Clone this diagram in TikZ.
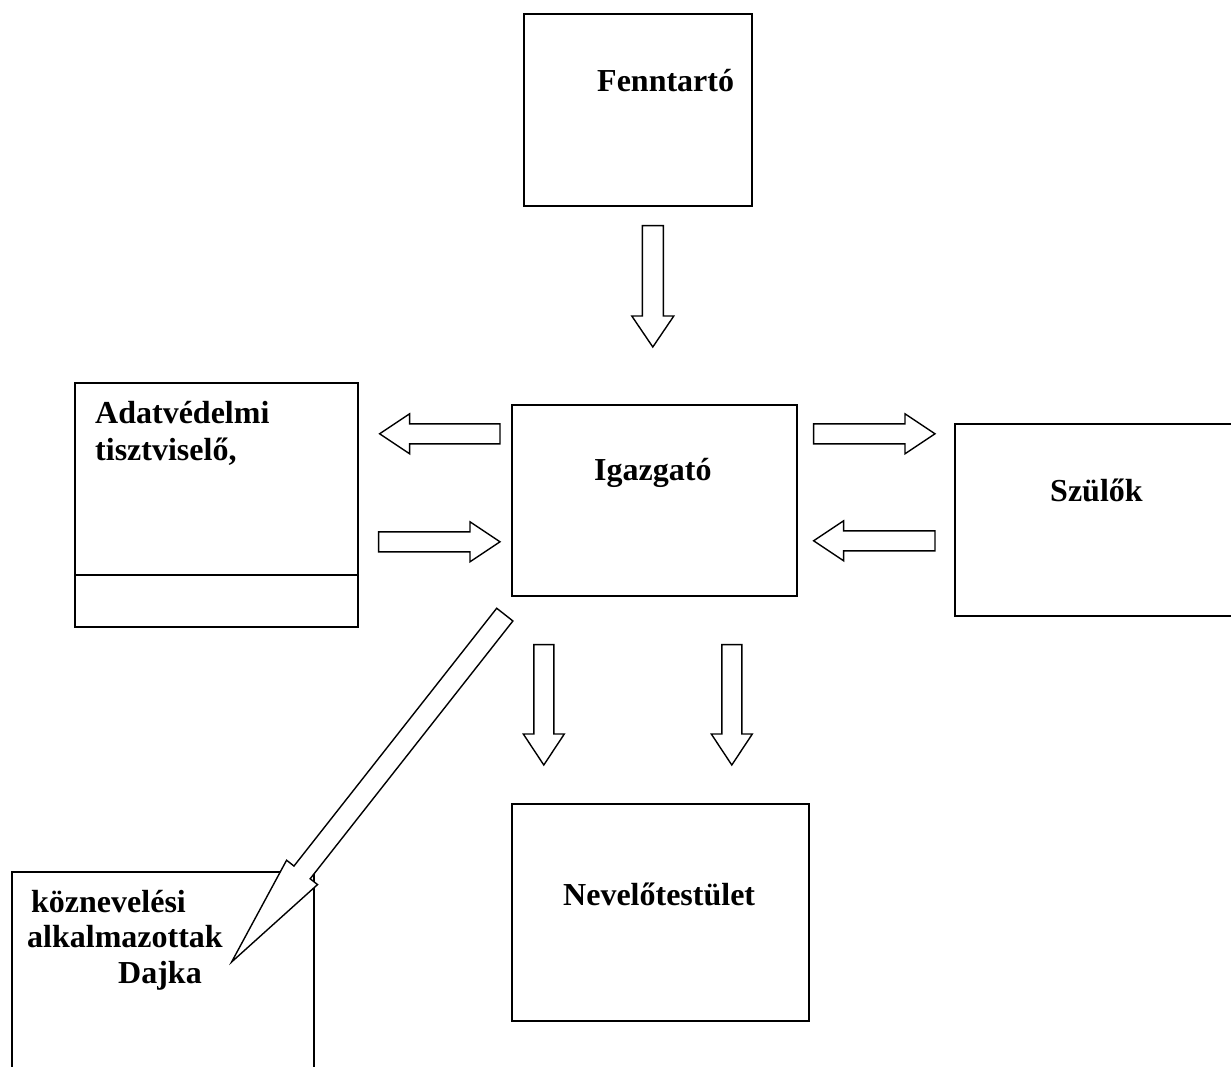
\documentclass[tikz,border=0pt]{standalone}
\usepackage{fontspec}
\setmainfont{Liberation Serif}
\usetikzlibrary{calc}
\tikzset{
  box/.style={draw=black, line width=1.6pt, rectangle, inner sep=0pt, anchor=north west},
  arr/.style={draw=black, fill=white, line width=1.4pt, line join=miter},
  lbl/.style={inner sep=0pt, anchor=base west, font=\bfseries\fontsize{32}{36}\selectfont}
}
\newcommand\blockarr[5]{% #1 start, #2 tip, #3 half shaft, #4 half head, #5 head length
  \coordinate (baB) at ($(#2)!#5pt!(#1)$);
  \draw[arr] ($(#1)!#3pt!90:(#2)$) -- ($(baB)!#3pt!90:(#2)$) -- ($(baB)!#4pt!90:(#2)$) -- (#2)
    -- ($(baB)!#4pt!-90:(#2)$) -- ($(baB)!#3pt!-90:(#2)$) -- ($(#1)!#3pt!-90:(#2)$) -- cycle;
}
\begin{document}
\begin{tikzpicture}[x=1pt,y=-1pt]
\useasboundingbox (0,0) rectangle (1231,1066);
\clip (0,0) rectangle (1231,1066);
% boxes
\node[box, minimum width=228pt, minimum height=192pt] (fen) at (523,13) {};
\node[box, minimum width=285pt, minimum height=191pt] (igaz) at (511,404) {};
\node[box, minimum width=283pt, minimum height=244pt] (adat) at (74,382) {};
\draw[line width=1.6pt] (adat.west |- 0,575) -- (adat.east |- 0,575);
\node[box, minimum width=291pt, minimum height=192pt] (szul) at (954,423) {};
\node[box, minimum width=297pt, minimum height=217pt] (nev) at (511,803) {};
\node[box, minimum width=302pt, minimum height=215pt] (koz) at (11,871) {};
% labels
\node[lbl] (tfen) at (597,91) {Fenntartó};
\node[lbl] (tigaz) at (594,480) {Igazgató};
\node[lbl] (tadat1) at (95,423) {Adatvédelmi};
\node[lbl] (tadat2) at (95,460) {tisztviselő,};
\node[lbl] (tszul) at (1050,501) {Szülők};
\node[lbl] (tnev) at (563,905) {Nevelőtestület};
\node[lbl] (tkoz1) at (31,912) {köznevelési};
\node[lbl] (tkoz2) at (27,947) {alkalmazottak};
\node[lbl] (tkoz3) at (118,983) {Dajka};
% arrow end points
\coordinate (a1s) at ($(fen.south)+(15,19)$);
\coordinate (a1e) at ($(igaz.north)+(-1.5,-57)$);
\coordinate (a2s) at ($(igaz.west)+(-11,-66.5)$);
\coordinate (a2e) at ($(adat.east)+(21,-71)$);
\coordinate (a3s) at ($(adat.east)+(20,37)$);
\coordinate (a3e) at ($(igaz.west)+(-11,41.5)$);
\coordinate (a4s) at ($(igaz.east)+(16,-66.5)$);
\coordinate (a4e) at ($(szul.west)+(-19,-86)$);
\coordinate (a5s) at ($(szul.west)+(-19,21)$);
\coordinate (a5e) at ($(igaz.east)+(16,40.5)$);
\coordinate (a6s) at ($(igaz.south)+(-110.5,48)$);
\coordinate (a6e) at ($(nev.north)+(-116.5,-38)$);
\coordinate (a7s) at ($(igaz.south)+(77.5,48)$);
\coordinate (a7e) at ($(nev.north)+(71.5,-38)$);
\coordinate (a8s) at ($(igaz.south)+(-149.5,18)$);
\coordinate (a8e) at ($(koz.north east)+(-83,91)$);
% block arrows
\blockarr{a1s}{a1e}{10.5}{21}{31}
\blockarr{a2s}{a2e}{10}{20}{30}
\blockarr{a3s}{a3e}{10}{20}{30}
\blockarr{a4s}{a4e}{10}{20}{30}
\blockarr{a5s}{a5e}{10}{20}{30}
\blockarr{a6s}{a6e}{10}{20.5}{31}
\blockarr{a7s}{a7e}{10}{20.5}{31}
\blockarr{a8s}{a8e}{10.3}{19.7}{114}
\end{tikzpicture}
\end{document}
